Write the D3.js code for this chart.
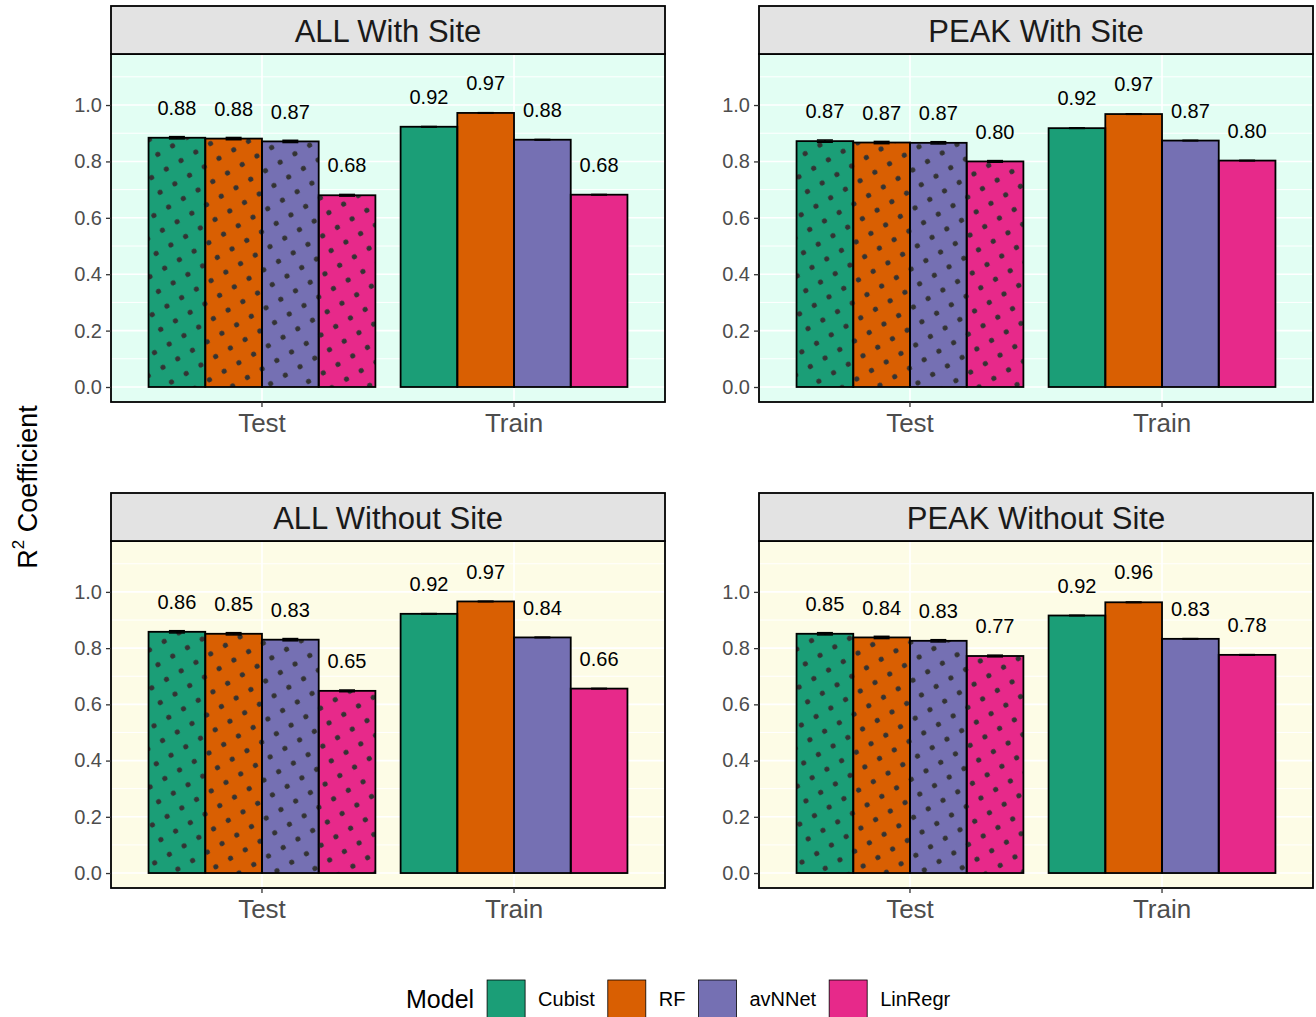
<!DOCTYPE html>
<html>
<head>
<meta charset="utf-8">
<script src="https://cdn.jsdelivr.net/npm/d3@7"></script>
<style>
  html, body { margin: 0; padding: 0; background: #ffffff; }
  svg { display: block; font-family: "Liberation Sans", Arial, Helvetica, sans-serif; }
</style>
</head>
<body>
<svg id="chart" width="1316" height="1017"></svg>
<script>
// ---- data ----
const panelTitles = ["ALL With Site", "PEAK With Site", "ALL Without Site", "PEAK Without Site"];
const splits = ["Test", "Train"];
const models = ["Cubist", "RF", "avNNet", "LinRegr"];
const modelColors = ["#1B9E77", "#D95F02", "#7570B3", "#E7298A"];

// R² per model (Cubist, RF, avNNet, LinRegr)
const allWithSiteTest     = [0.884, 0.881, 0.871, 0.680];
const allWithSiteTrain    = [0.923, 0.972, 0.877, 0.682];
const peakWithSiteTest    = [0.872, 0.867, 0.866, 0.800];
const peakWithSiteTrain   = [0.918, 0.968, 0.874, 0.803];
const allWithoutSiteTest  = [0.858, 0.851, 0.830, 0.648];
const allWithoutSiteTrain = [0.922, 0.966, 0.838, 0.656];
const peakWithoutSiteTest = [0.851, 0.838, 0.826, 0.772];
const peakWithoutSiteTrain= [0.916, 0.963, 0.833, 0.776];

// standard errors
const seTest  = [0.004, 0.004, 0.004, 0.003];
const seTrain = [0.001, 0.001, 0.001, 0.001];

const yTicks = [0, 0.2, 0.4, 0.6, 0.8, 1.0];
const yMinor = [0.1, 0.3, 0.5, 0.7, 0.9, 1.1];

const panelValues = [
  [allWithSiteTest, allWithSiteTrain],
  [peakWithSiteTest, peakWithSiteTrain],
  [allWithoutSiteTest, allWithoutSiteTrain],
  [peakWithoutSiteTest, peakWithoutSiteTrain]
];
const panelBg = ["#E2FEF3", "#E2FEF3", "#FDFCE6", "#FDFCE6"];

// ---- layout ----
const svg = d3.select("#chart");
const colX = [111, 759];
const panelW = 554;
const rowTop = [6, 493];
const stripH = 48;
const panelH = [348, 347];

const defs = svg.append("defs");
defs.append("pattern")
  .attr("id", "dots")
  .attr("patternUnits", "userSpaceOnUse")
  .attr("width", 17).attr("height", 17)
  .attr("patternTransform", "rotate(-30)")
  .append("circle")
  .attr("cx", 8.5).attr("cy", 8.5).attr("r", 2.6)
  .attr("fill", "#333333");

panelTitles.forEach((title, i) => {
  const col = i % 2, row = Math.floor(i / 2);
  const x0 = colX[col];
  const sTop = rowTop[row];
  const pTop = sTop + stripH;
  const pBot = pTop + panelH[row];

  const x = d3.scaleBand().domain(splits).range([x0, x0 + panelW])
    .paddingInner(0.1).paddingOuter(0.149);
  const xm = d3.scaleBand().domain(models).range([0, x.bandwidth()]).padding(0);
  const y = d3.scaleLinear().domain([-0.0532, 1.181]).range([pBot, pTop]);

  const g = svg.append("g");

  // panel background
  g.append("rect").attr("x", x0).attr("y", pTop)
    .attr("width", panelW).attr("height", panelH[row])
    .attr("fill", panelBg[i]);

  // grid
  g.selectAll(".minor").data(yMinor).join("line")
    .attr("x1", x0).attr("x2", x0 + panelW)
    .attr("y1", d => y(d)).attr("y2", d => y(d))
    .attr("stroke", "#ffffff").attr("stroke-width", 1);
  g.selectAll(".major").data(yTicks).join("line")
    .attr("x1", x0).attr("x2", x0 + panelW)
    .attr("y1", d => y(d)).attr("y2", d => y(d))
    .attr("stroke", "#ffffff").attr("stroke-width", 1.6);
  g.selectAll(".vmajor").data(splits).join("line")
    .attr("x1", d => x(d) + x.bandwidth() / 2).attr("x2", d => x(d) + x.bandwidth() / 2)
    .attr("y1", pTop).attr("y2", pBot)
    .attr("stroke", "#ffffff").attr("stroke-width", 1.6);

  // bars
  splits.forEach((split, si) => {
    const vals = panelValues[i][si];
    const se = si === 0 ? seTest : seTrain;
    const bars = models.map((m, mi) => ({ m, mi, v: vals[mi], se: se[mi] }));
    const bg = g.append("g");
    bg.selectAll("rect.fill").data(bars).join("rect")
      .attr("x", d => x(split) + xm(d.m)).attr("y", d => y(d.v))
      .attr("width", xm.bandwidth()).attr("height", d => y(0) - y(d.v))
      .attr("fill", d => modelColors[d.mi]);
    bg.selectAll("rect.edge").data(bars).join("rect")
      .attr("x", d => x(split) + xm(d.m)).attr("y", d => y(d.v))
      .attr("width", xm.bandwidth()).attr("height", d => y(0) - y(d.v))
      .attr("fill", split === "Test" ? "url(#dots)" : "none")
      .attr("stroke", "#000000").attr("stroke-width", 1.8);

    // error bars
    const ebW = 16;
    bars.forEach(d => {
      const cx = x(split) + xm(d.m) + xm.bandwidth() / 2;
      const e = bg.append("g").attr("stroke", "#000000").attr("stroke-width", 1.5);
      e.append("line").attr("x1", cx - ebW / 2).attr("x2", cx + ebW / 2)
        .attr("y1", y(d.v + d.se)).attr("y2", y(d.v + d.se));
      e.append("line").attr("x1", cx - ebW / 2).attr("x2", cx + ebW / 2)
        .attr("y1", y(d.v - d.se)).attr("y2", y(d.v - d.se));
      e.append("line").attr("x1", cx).attr("x2", cx)
        .attr("y1", y(d.v + d.se)).attr("y2", y(d.v - d.se));
    });

    // value labels
    bg.selectAll("text.val").data(bars).join("text")
      .attr("x", d => x(split) + xm(d.m) + xm.bandwidth() / 2)
      .attr("y", d => y(d.v + 0.106))
      .attr("dy", "0.35em")
      .attr("text-anchor", "middle")
      .attr("font-size", 20)
      .attr("fill", "#000000")
      .text(d => d.v.toFixed(2));
  });

  // panel border
  g.append("rect").attr("x", x0).attr("y", pTop)
    .attr("width", panelW).attr("height", panelH[row])
    .attr("fill", "none").attr("stroke", "#000000").attr("stroke-width", 1.8);

  // strip
  g.append("rect").attr("x", x0).attr("y", sTop)
    .attr("width", panelW).attr("height", stripH)
    .attr("fill", "#E3E3E3").attr("stroke", "#000000").attr("stroke-width", 1.8);
  g.append("text")
    .attr("x", x0 + panelW / 2).attr("y", sTop + stripH / 2 + 1)
    .attr("dy", "0.35em").attr("text-anchor", "middle")
    .attr("font-size", 31).attr("fill", "#1A1A1A")
    .text(title);

  // axes
  const ya = g.append("g").attr("transform", `translate(${x0},0)`)
    .call(d3.axisLeft(y).tickValues(yTicks).tickFormat(d3.format(".1f")).tickSize(5).tickPadding(4));
  ya.select(".domain").remove();
  ya.selectAll(".tick line").attr("stroke", "#333333").attr("stroke-width", 1.3);
  ya.selectAll(".tick text").attr("fill", "#4D4D4D").attr("font-size", 20)
    .attr("font-family", "Liberation Sans, Arial, sans-serif");

  const xa = g.append("g").attr("transform", `translate(0,${pBot})`)
    .call(d3.axisBottom(x).tickSize(5).tickPadding(7));
  xa.select(".domain").remove();
  xa.selectAll(".tick line").attr("stroke", "#333333").attr("stroke-width", 1.3);
  xa.selectAll(".tick text").attr("fill", "#4D4D4D").attr("font-size", 26)
    .attr("font-family", "Liberation Sans, Arial, sans-serif");
});

// y-axis title
const yt = svg.append("text")
  .attr("transform", "translate(37,487) rotate(-90)")
  .attr("text-anchor", "middle")
  .attr("font-size", 27)
  .attr("fill", "#000000");
yt.append("tspan").text("R");
yt.append("tspan").attr("font-size", 17).attr("dy", "-0.75em").text("2");
yt.append("tspan").attr("dy", "0.48em").text(" Coefficient");

// legend
const lg = svg.append("g");
let lx = 406;
const ly = 999;
const gap = 13;
const keyS = 38;
const lt = lg.append("text").attr("x", lx).attr("y", ly).attr("dy", "0.35em")
  .attr("font-size", 25).attr("fill", "#000000").text("Model");
lx += lt.node().getComputedTextLength() + gap;
models.forEach((m, mi) => {
  lg.append("rect").attr("x", lx).attr("y", ly - keyS / 2)
    .attr("width", keyS).attr("height", keyS)
    .attr("fill", modelColors[mi]).attr("stroke", "#000000").attr("stroke-width", 0.8);
  lx += keyS + gap;
  const t = lg.append("text").attr("x", lx).attr("y", ly).attr("dy", "0.35em")
    .attr("font-size", 20).attr("fill", "#000000").text(m);
  lx += t.node().getComputedTextLength() + gap;
});
</script>
</body>
</html>
